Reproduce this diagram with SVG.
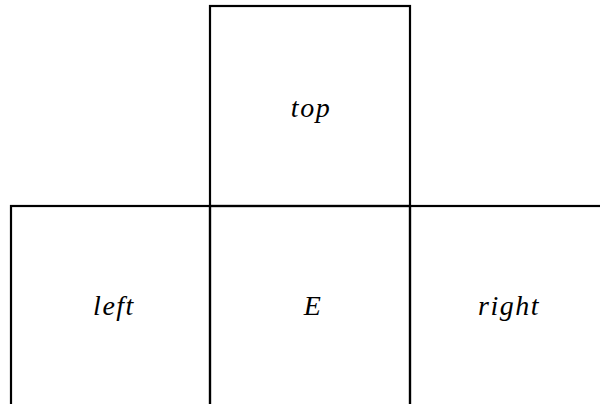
<svg xmlns="http://www.w3.org/2000/svg" width="600" height="404" viewBox="0 0 600 404">
<style>
.box{fill:none;stroke:#000;stroke-width:2.2}
.lbl{font-family:"Liberation Serif","DejaVu Serif",serif;font-style:italic;font-size:28px;text-anchor:middle;letter-spacing:1.5px}
</style>
<rect width="600" height="404" fill="#fff"/>
<g id="top"><rect class="box" x="210" y="6" width="200" height="200"/><text class="lbl" x="311" y="117">top</text></g>
<g id="left"><rect class="box" x="11" y="206" width="199" height="200"/><text class="lbl" x="114" y="315">left</text></g>
<g id="E"><rect class="box" x="210" y="206" width="200" height="200"/><text class="lbl" x="313" y="315">E</text></g>
<g id="right"><rect class="box" x="410" y="206" width="200" height="200"/><text class="lbl" x="509" y="315">right</text></g>
<g id="connectors"></g>
</svg>
